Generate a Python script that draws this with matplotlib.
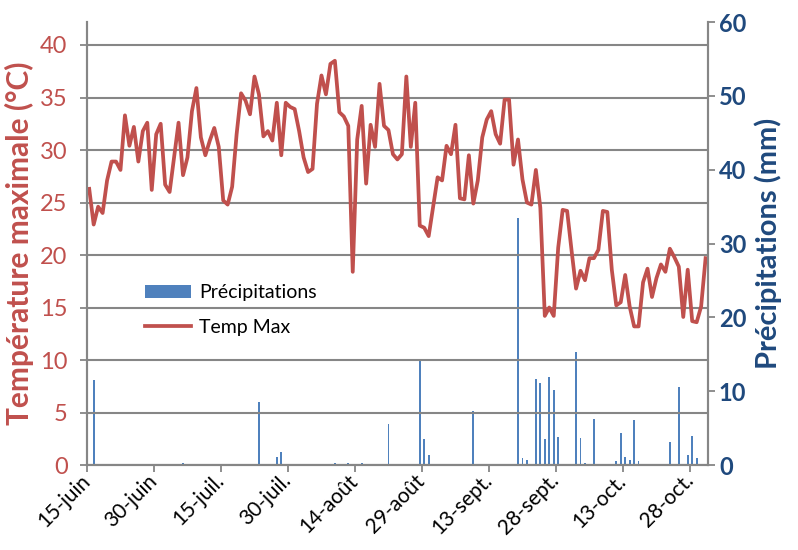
import numpy as np
import matplotlib
matplotlib.use("Agg")
import matplotlib.pyplot as plt
import matplotlib.transforms as mtransforms

plt.rcParams['font.family'] = ['Lato', 'DejaVu Sans']

# daily max temperature, 15 June to 31 October (one value per day)
temp_max = [
    26.3, 22.9, 24.6, 24.0, 27.1, 28.9, 28.9, 28.1, 33.3, 30.4,
    32.2, 28.9, 31.8, 32.6, 26.2, 31.5, 32.5, 26.7, 26.0, 29.3,
    32.6, 27.6, 29.3, 33.7, 35.9, 31.2, 29.5, 30.9, 32.1, 30.3,
    25.2, 24.8, 26.5, 31.5, 35.4, 34.7, 33.4, 37.0, 35.3, 31.3,
    31.8, 30.9, 34.5, 29.5, 34.5, 34.1, 33.9, 31.8, 29.3, 27.9,
    28.2, 34.4, 37.1, 35.3, 38.2, 38.5, 33.6, 33.2, 32.3, 18.4,
    31.0, 34.2, 26.8, 32.4, 30.3, 36.3, 32.3, 31.9, 29.6, 29.1,
    29.6, 37.0, 30.3, 34.5, 22.8, 22.6, 21.8, 24.6, 27.4, 27.1,
    30.4, 29.6, 32.4, 25.4, 25.3, 29.5, 24.9, 27.1, 31.2, 32.9,
    33.7, 31.5, 30.6, 34.8, 34.8, 28.6, 31.0, 27.2, 25.0, 24.8,
    28.1, 24.5, 14.2, 15.0, 14.2, 20.7, 24.3, 24.2, 20.4, 16.8,
    18.5, 17.6, 19.7, 19.7, 20.5, 24.2, 24.1, 18.6, 15.2, 15.5,
    18.1, 15.1, 13.2, 13.2, 17.4, 18.7, 16.0, 17.8, 19.1, 18.4,
    20.6, 19.8, 18.9, 14.1, 18.6, 13.7, 13.6, 15.1, 19.7,
]
days = np.arange(len(temp_max))

# rainy days (index from 15 June) and rain amount in mm
rain_days = [1, 20, 21, 37, 38, 42, 43, 55, 56, 58, 61, 62, 67, 74, 75, 76,
             86, 95, 96, 97, 98, 100, 101, 102, 103, 104, 105, 106, 109, 110,
             111, 112, 113, 116, 117, 118, 119, 120, 121, 122, 123, 125,
             129, 130, 131, 132, 133, 134, 135, 136]
rain_mm = [11.5, 0.2, 0.3, 0.2, 8.5, 1.1, 1.7, 0.3, 0.2, 0.3, 0.3, 0.2, 5.5,
           14.3, 3.5, 1.3, 7.3, 0.1, 33.4, 1.0, 0.7, 11.7, 11.1, 3.5, 11.9,
           10.1, 3.8, 0.1, 15.3, 3.7, 0.3, 0.1, 6.3, 0.1, 0.1, 0.6, 4.4, 1.1,
           0.7, 6.1, 0.5, 0.1, 0.1, 3.1, 0.1, 10.5, 0.2, 1.3, 3.9, 0.9]

tick_days = [0, 15, 30, 45, 60, 75, 90, 105, 120, 135]
tick_labels = ['15-juin', '30-juin', '15-juil.', '30-juil.', '14-août',
               '29-août', '13-sept.', '28-sept.', '13-oct.', '28-oct.']

red = '#C0504D'
blue = '#4F81BD'
navy = '#1F497D'
grey = '#868686'

fig = plt.figure(figsize=(7.98, 5.5), dpi=100)
ax = fig.add_axes([0.109, 0.1545, 0.778, 0.8055])
ax2 = ax.twinx()
ax.set_zorder(ax2.get_zorder() + 1)
ax.patch.set_visible(False)

# precipitation bars on the right axis
bars = ax2.bar(rain_days, rain_mm, width=0.4, color=blue, label='Précipitations')
ax2.set_ylim(0, 60)
ax2.set_yticks(range(0, 61, 10))

# temperature line on the left axis
line, = ax.plot(days, temp_max, color=red, lw=2.7, label='Temp Max',
                solid_joinstyle='round')
ax.set_ylim(0, 42.19)
ax.set_yticks(range(0, 41, 5))
ax.set_xlim(-0.5, len(temp_max) - 0.5)
ax.set_xticks([d - 0.5 for d in tick_days])
ax.set_xticklabels(tick_labels, rotation=45, ha='right', va='center',
                   rotation_mode='anchor', fontsize=15)
shift = mtransforms.ScaledTranslation(9 / 72, 0, fig.dpi_scale_trans)
for t in ax.get_xticklabels():
    t.set_transform(t.get_transform() + shift)
ax.grid(axis='y', color=grey, lw=1.5)

for a in (ax, ax2):
    a.spines['top'].set_visible(False)
    for s in ('left', 'right', 'bottom'):
        a.spines[s].set_color(grey)
        a.spines[s].set_linewidth(1.5)
ax.tick_params(axis='y', colors=grey, labelcolor=red, labelsize=17, length=5,
               width=1.3, pad=9)
ax.tick_params(axis='x', colors=grey, labelcolor='black', length=5, width=1.3,
               pad=4)
ax2.tick_params(axis='y', colors=grey, labelcolor=navy, labelsize=17, length=5,
                width=1.3, pad=3)
for t in ax2.get_yticklabels():
    t.set_fontweight('bold')

ax.set_ylabel('Température maximale (°C)', color=red, fontsize=21.5,
              fontweight='bold', labelpad=4)
ax2.set_ylabel('Précipitations (mm)', color=navy, fontsize=21,
               fontweight='bold', labelpad=6)

ax.legend([bars, line], ['Précipitations', 'Temp Max'], frameon=False,
          loc='upper left', bbox_to_anchor=(0.077, 0.43), fontsize=14,
          handlelength=2.4, handletextpad=0.4, labelspacing=0.9, borderpad=0)

fig.savefig('out.png', dpi=100)
